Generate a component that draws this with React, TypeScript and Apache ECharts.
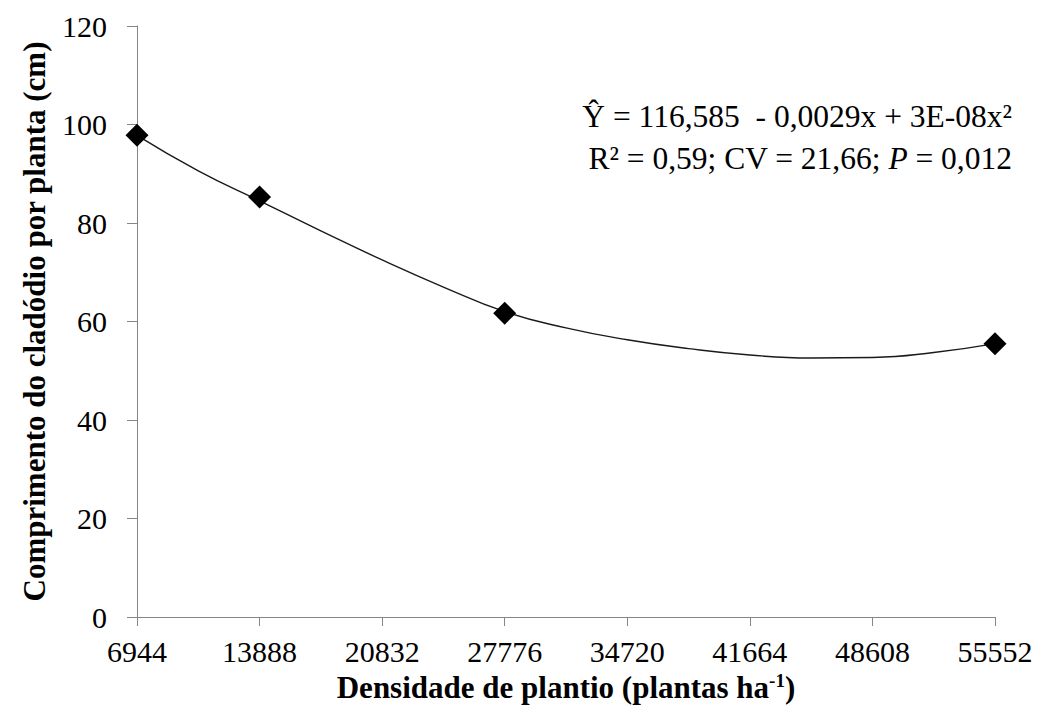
import React, { useEffect, useRef } from "react";
import * as echarts from "echarts";

// Observed means
const densidade = [6944, 13888, 27776, 55552];
const comprimento = [97.8, 85.3, 61.7, 55.5];

// Fitted trend curve
const curveX = [6944, 10416, 13888, 17360, 20832, 24304, 27776, 31248, 34720, 38192, 41664, 45136, 48608, 52080, 55552];
const curveY = [97.8, 90.6, 84.5, 78.4, 72.5, 67.0, 62.0, 58.7, 56.3, 54.5, 53.2, 52.6, 52.7, 53.7, 55.5];

const xTicks = { min: 6944, max: 55552, step: 6944 };
const yTicks = { min: 0, max: 120, step: 20 };

const eqLine1 = "Ŷ = 116,585  - 0,0029x + 3E-08x²";
const eqLine2 = "{n|R² = 0,59; CV = 21,66; }{i|P}{n| = 0,012}";
const yTitle = "Comprimento do cladódio por planta (cm)";
const xTitle = "{a|Densidade de plantio (plantas ha}{s|-1}{a|)}";

const FONT = "'Liberation Serif', 'Times New Roman', serif";

export default function App() {
  const ref = useRef<HTMLDivElement>(null);
  useEffect(() => {
    if (!ref.current) return;
    const chart = echarts.init(ref.current, undefined, { renderer: "svg" });
    const axisColor = "#868686";
    chart.setOption({
      animation: false,
      backgroundColor: "#ffffff",
      grid: { left: 137, right: 43, top: 26, bottom: 93, containLabel: false },
      xAxis: {
        type: "value",
        min: xTicks.min,
        max: xTicks.max,
        interval: xTicks.step,
        axisLine: { show: true, lineStyle: { color: axisColor, width: 1 } },
        axisTick: { show: true, length: 9, lineStyle: { color: axisColor } },
        splitLine: { show: false },
        axisLabel: {
          color: "#000",
          fontFamily: FONT,
          fontSize: 30,
          margin: 19,
          formatter: (v: number) => String(v),
        },
        name: xTitle,
        nameLocation: "middle",
        nameGap: 54,
        nameTextStyle: {
          rich: {
            a: { fontFamily: FONT, fontSize: 31, fontWeight: "bold", color: "#000" },
            s: { fontFamily: FONT, fontSize: 19, fontWeight: "bold", color: "#000", verticalAlign: "bottom", padding: [0, 0, 13, 0] },
          },
        },
      },
      yAxis: {
        type: "value",
        min: yTicks.min,
        max: yTicks.max,
        interval: yTicks.step,
        axisLine: { show: true, lineStyle: { color: axisColor, width: 1 } },
        axisTick: { show: true, length: 10, lineStyle: { color: axisColor } },
        splitLine: { show: false },
        axisLabel: {
          color: "#000",
          fontFamily: FONT,
          fontSize: 30,
          margin: 30,
        },
        name: yTitle,
        nameLocation: "middle",
        nameGap: 87,
        nameTextStyle: { fontFamily: FONT, fontSize: 31, fontWeight: "bold", color: "#000" },
      },
      graphic: [
        {
          type: "text",
          right: 26,
          top: 100,
          style: { text: eqLine1, font: `31.5px ${FONT}`, fill: "#000", textAlign: "right" },
        },
        {
          type: "text",
          right: 26,
          top: 142,
          style: {
            text: eqLine2,
            fill: "#000",
            textAlign: "right",
            rich: {
              n: { fontFamily: FONT, fontSize: 31.5, color: "#000" },
              i: { fontFamily: FONT, fontSize: 31.5, fontStyle: "italic", color: "#000" },
            },
          },
        },
      ],
      series: [
        {
          type: "line",
          data: curveX.map((x, i) => [x, curveY[i]]),
          smooth: true,
          showSymbol: false,
          lineStyle: { color: "#1a1a1a", width: 1.4 },
          z: 2,
          silent: true,
        },
        {
          type: "scatter",
          data: densidade.map((x, i) => [x, comprimento[i]]),
          symbol: "diamond",
          symbolSize: 23,
          itemStyle: { color: "#000", opacity: 1 },
          z: 3,
        },
      ],
    });
    return () => chart.dispose();
  }, []);
  return (
    <div
      ref={ref}
      style={{ position: "fixed", left: 0, top: 0, width: 1038, height: 710, background: "#fff" }}
    />
  );
}
